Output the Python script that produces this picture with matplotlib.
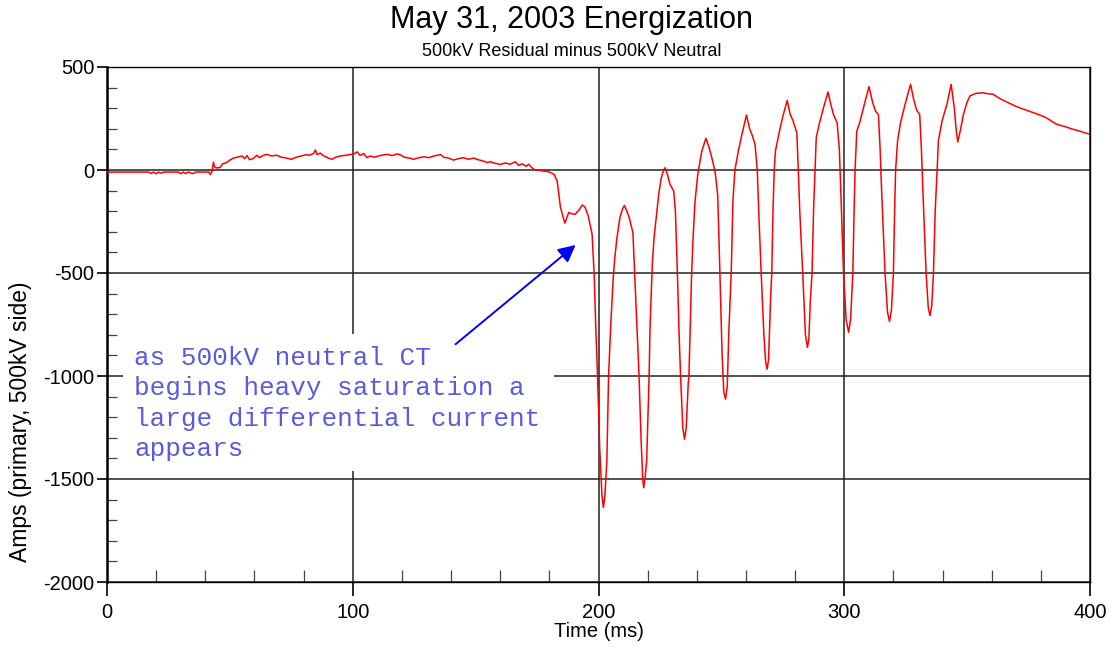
import numpy as np
import matplotlib
matplotlib.use('Agg')
import matplotlib.pyplot as plt
from matplotlib.patches import Rectangle
from matplotlib.ticker import MultipleLocator

plt.rcParams['font.family'] = ['Liberation Sans', 'DejaVu Sans']
plt.rcParams['axes.unicode_minus'] = False

# traced waveform: time (ms) and differential current (A)
time_ms = [
    0, 17, 18, 19, 20, 21, 22, 23, 29, 30, 31, 32, 33, 35, 36, 41.5, 42, 42.8, 43.3, 43.8,
    44.5, 46, 47, 48.5, 50, 51.5, 53, 55, 56, 57, 58, 59.5, 61, 62, 63.5, 65, 67, 69, 71, 73,
    75, 77, 79, 81, 82.5, 84, 84.8, 85.5, 86.8, 88, 90, 91.6, 93, 95, 97.5, 99, 100.5, 101.8,
    103, 104.5, 105.8, 107, 109, 111, 114, 116, 118, 119.4, 121, 123, 124.8, 127, 129, 131,
    133, 135.7, 137, 139, 141, 143, 145, 147, 149.3, 151, 153, 154.7, 156, 158, 160, 162, 164,
    166.2, 167.5, 169, 170.5, 171.6, 173, 174, 176, 178, 179.5, 181, 182, 183.2, 184.5, 186.3,
    187.9, 189, 190.5, 192, 193.4, 194.5, 195.8, 197.4, 198.2, 199.0, 199.6, 200.5, 201.4,
    202.0, 202.6, 203.4, 204.1, 205.0, 206.0, 206.6, 207.5, 208.7, 209.6, 210.5, 211.4, 212.5,
    214.0, 214.7, 215.6, 216.5, 217.3, 218.0, 218.4, 218.9, 219.6, 220.6, 221.0, 221.9, 222.6,
    224.5, 225.5, 226.5, 227.1, 228.0, 229.1, 230.6, 231.3, 232.1, 232.8, 233.4, 234.3, 235.0,
    235.7, 236.5, 236.8, 237.9, 238.6, 239.3, 240.4, 242.0, 243.7, 245.0, 246.1, 247.4, 248.5,
    249.4, 250.3, 251.0, 251.7, 252.4, 253.0, 254.0, 254.7, 255.5, 256.9, 258.5, 260.2, 261.5,
    262.5, 263.7, 264.6, 265.2, 266.2, 267.3, 268.0, 268.6, 269.2, 270.0, 270.5, 271.0, 271.5,
    272.0, 273.5, 275.0, 276.8, 278.0, 279.1, 280.7, 281.3, 281.9, 283.1, 284.2, 285.0, 285.6,
    286.2, 286.9, 287.5, 288.1, 288.6, 289.8, 291.5, 293.4, 294.5, 295.6, 297.1, 298.0, 298.6,
    299.7, 300.8, 301.8, 302.6, 303.5, 304.0, 304.4, 305.1, 306.3, 308.2, 310.1, 311.5, 312.7,
    313.9, 314.6, 315.2, 316.6, 317.6, 318.4, 319.2, 320.0, 320.5, 320.9, 321.7, 322.9, 325.0,
    327.0, 328.3, 329.5, 330.7, 331.4, 332.0, 333.3, 334.2, 334.9, 335.6, 336.3, 337.0, 337.8,
    338.3, 339.8, 341.8, 343.5, 344.8, 345.5, 346.2, 347.2, 348.5, 350.0, 351.1, 353.5, 356.3,
    358.5, 360.5, 363.9, 367, 370, 373, 376, 378.9, 382, 386.4, 390, 393, 396, 400,
]
amps = [
    -10, -10, -17, -10, -18, -10, -16, -10, -10, -18, -10, -17, -10, -18, -10, -10, -22, -5, 38, 15,
    10, 12, 30, 35, 48, 58, 62, 68, 55, 70, 50, 55, 72, 60, 70, 76, 68, 72, 62, 58,
    52, 62, 68, 74, 72, 80, 97, 75, 82, 70, 58, 52, 62, 68, 72, 75, 78, 88,
    70, 80, 60, 68, 62, 70, 76, 70, 78, 74, 62, 58, 52, 60, 64, 60,
    68, 75, 62, 58, 48, 55, 60, 52, 58, 50, 44, 36, 40, 32, 27, 34, 28,
    40, 22, 30, 18, 28, 10, 2, -2, -6, -8, -15, -22, -55, -180, -258,
    -206, -212, -215, -195, -170, -180, -222, -312, -500, -800, -1000, -1350, -1580,
    -1639, -1580, -1412, -1000, -748, -521, -430, -330, -231, -195, -172, -195, -231,
    -304, -500, -750, -1000, -1300, -1500, -1542, -1500, -1412, -1000, -748, -456, -330,
    -118, -40, 0, 11, -20, -70, -102, -200, -500, -800, -1000, -1250, -1307,
    -1250, -1039, -1000, -500, -300, -150, -21, 90, 154, 110, 60, -5, -120,
    -500, -900, -1080, -1112, -1050, -796, -500, -150, 0, 92, 180, 267, 200,
    170, 125, 0, -200, -500, -800, -930, -967, -920, -634, -500, -200, 0,
    92, 181, 260, 338, 270, 241, 181, 0, -200, -500, -800, -861, -820,
    -634, -500, -200, 0, 157, 222, 300, 379, 320, 270, 230, 100, -100,
    -500, -730, -788, -720, -500, -200, 0, 189, 230, 320, 405, 330, 286,
    270, 100, -100, -500, -690, -735, -680, -500, -200, 0, 141, 230, 330,
    416, 340, 290, 270, 100, -100, -500, -670, -707, -660, -500, -200, 0,
    141, 238, 320, 416, 300, 200, 136, 190, 270, 330, 359, 372, 375,
    370, 368, 343, 325, 308, 295, 282, 270, 255, 222, 210, 198, 188, 173,
]

title = 'May 31, 2003 Energization'
subtitle = '500kV Residual minus 500kV Neutral'
note = ('as 500kV neutral CT\n'
        'begins heavy saturation a\n'
        'large differential current\n'
        'appears')

fig = plt.figure(figsize=(11.1, 6.47), dpi=100)
ax = fig.add_axes([107 / 1110, 1 - 582 / 647, 983 / 1110, 515 / 647])

ax.plot(time_ms, amps, color='#ff0000', lw=1.1, zorder=4)

ax.set_xlim(0, 400)
ax.set_ylim(-2000, 500)
ax.xaxis.set_major_locator(MultipleLocator(100))
ax.xaxis.set_minor_locator(MultipleLocator(20))
ax.yaxis.set_major_locator(MultipleLocator(500))
ax.yaxis.set_minor_locator(MultipleLocator(100))

ax.grid(True, which='major', color='#222222', lw=1.1, zorder=1)
ax.set_axisbelow(True)

ax.tick_params(axis='y', which='major', direction='out', length=7.5, width=1.2,
               labelsize=14.5, pad=1.5)
ax.tick_params(axis='y', which='minor', direction='in', length=7.5, width=0.9, color='#444444')
ax.tick_params(axis='x', which='major', direction='out', length=10, width=1.2,
               labelsize=14.5, pad=5)
ax.tick_params(axis='x', which='minor', direction='in', length=8.5, width=0.9, color='#444444')

for side in ['top', 'right', 'bottom']:
    ax.spines[side].set_linewidth(1.0)
ax.spines['left'].set_linewidth(1.8)

ax.set_xlabel('Time (ms)', fontsize=14.5)
ax.xaxis.set_label_coords(0.5, -0.078)
ax.set_ylabel('Amps (primary, 500kV side)', fontsize=16.5)
ax.yaxis.set_label_coords(-0.076, 0.312)

# white box behind the note, hiding the grid
ax.add_patch(Rectangle((6.5, -1461), 175.4, 665, facecolor='white',
                       edgecolor='none', zorder=2))
ax.text(11.0, -853, note, fontsize=18.7, family=['Liberation Mono', 'DejaVu Sans Mono'],
        color='#5a5ae0', va='top', ha='left', linespacing=1.34, zorder=3)
ax.annotate('', xy=(190.7, -364), xytext=(141.8, -846),
            arrowprops=dict(arrowstyle='-|>', color='#0000ff', lw=1.4,
                            mutation_scale=26, shrinkA=0, shrinkB=0),
            zorder=5)

fig.text(572 / 1110, 1 - 20 / 647, title, fontsize=22, ha='center', va='center')
fig.text(572 / 1110, 1 - 51 / 647, subtitle, fontsize=13, ha='center', va='center')

fig.savefig('out.png', dpi=100)
